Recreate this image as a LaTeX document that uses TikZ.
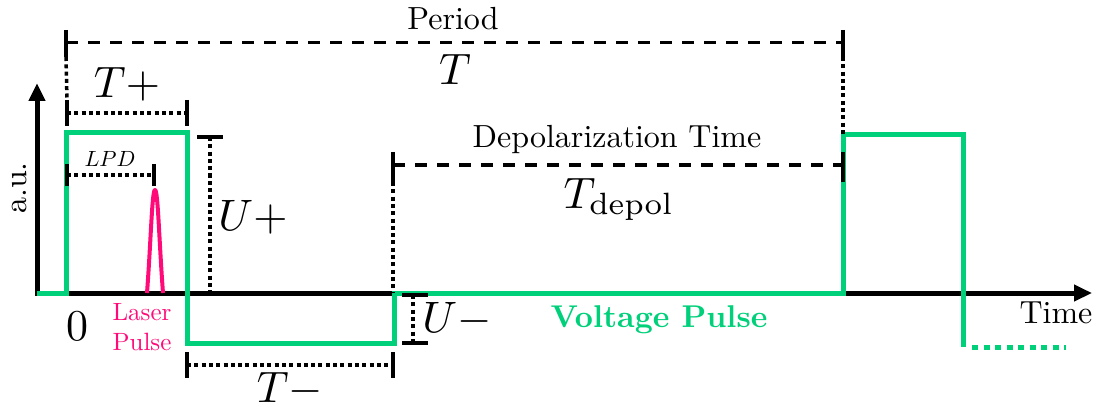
\documentclass[tikz,border=0pt]{standalone}
\usetikzlibrary{arrows.meta}
\definecolor{vgreen}{RGB}{0,208,122}
\definecolor{lpink}{RGB}{255,10,120}
\newcommand{\txtsc}[1]{\scalebox{3.2}{#1}}
\newcommand{\mthsc}[1]{\scalebox{4.4}{#1}}
\begin{document}
\begin{tikzpicture}[x=1pt,y=-1pt,
  axisline/.style={line width=5pt, -{Triangle[length=18pt,width=16pt]}},
  pulseline/.style={vgreen, line width=5pt, line join=miter},
  dimdash/.style={line width=3pt, dash pattern=on 12pt off 10pt},
  dimdot/.style={line width=3.5pt, dash pattern=on 4pt off 3.3pt},
  tickline/.style={line width=3.5pt},
  lbl/.style={font=\fontsize{10}{12}\selectfont, anchor=base, inner sep=0pt},
]
\useasboundingbox (0,0) rectangle (1103,409);

% axes
\coordinate (xend) at (1092,293);
\coordinate (ostart) at (35,293);
\coordinate (obot) at (37,295.5);
\coordinate (yend) at (37,83);
\draw[axisline] (ostart) -- (xend);
\draw[axisline] (obot) -- (yend);

% voltage pulse
\coordinate (g0) at (37,293);
\coordinate (g1) at (66,293);
\coordinate (g2) at (66,133);
\coordinate (g3) at (187,133);
\coordinate (g4) at (187,343);
\coordinate (g5) at (394,343);
\coordinate (g6) at (394,293);
\coordinate (g7) at (843,293);
\coordinate (g8) at (843,135);
\coordinate (g9) at (963,135);
\coordinate (g10) at (963,347);
\coordinate (g11) at (972,347);
\coordinate (g12) at (1066,347);
\draw[pulseline] (g0) -- (g1) -- (g2) -- (g3) -- (g4) -- (g5) -- (g6) -- (g7) -- (g8) -- (g9) -- (g10);
\draw[vgreen, line width=5pt, dash pattern=on 6pt off 5.5pt] (g11) -- (g12);

% laser pulse
\coordinate (l0) at (147,293);
\coordinate (l1) at (155,190);
\coordinate (l2) at (163,293);
\draw[lpink, line width=4pt, line join=round] (l0) .. controls (151,240) and (152,190) .. (l1) .. controls (158,190) and (159,240) .. (l2);

% Period
\coordinate (pa) at (66,43); \coordinate (pb) at (843,43);
\coordinate (pat) at (66,30); \coordinate (pab) at (66,57);
\coordinate (pbt) at (843,30); \coordinate (pbb) at (843,57);
\coordinate (tpt) at (67,100);
\draw[tickline] (pat) -- (pab);
\draw[tickline] (pbt) -- (pbb);
\draw[dimdash] (pa) -- (pb);
\draw[dimdot] (pbb) -- (g8);
\draw[dimdot] (pab) -- (tpt);
\node[lbl] (period) at (453,30) {\txtsc{Period}};
\node[lbl] (tlbl) at (455,85) {\mthsc{$T$}};

% T+
\coordinate (ta) at (67,113); \coordinate (tb) at (187,113);
\coordinate (tat) at (67,100); \coordinate (tab) at (67,126);
\coordinate (tbt) at (187,100); \coordinate (tbb) at (187,126);
\draw[tickline] (tat) -- (tab);
\draw[tickline] (tbt) -- (tbb);
\draw[dimdot] (ta) -- (tb);
\node[lbl] (tplus) at (127,98) {\mthsc{$T+$}};

% LPD
\coordinate (la) at (67,175); \coordinate (lb) at (154,175);
\coordinate (lat) at (67,164); \coordinate (lab) at (67,186);
\coordinate (lbt) at (154,164); \coordinate (lbb) at (154,186);
\draw[tickline] (lat) -- (lab);
\draw[tickline] (lbt) -- (lbb);
\draw[dimdot] (la) -- (lb);
\node[lbl] (lpd) at (110,167) {\scalebox{2.2}{$LPD$}};

% U+
\coordinate (ua) at (197,137); \coordinate (ub) at (223,137);
\coordinate (uc) at (210,137); \coordinate (ud) at (210,293);
\draw[tickline] (ua) -- (ub);
\draw[dimdot] (uc) -- (ud);
\node[lbl] (uplus) at (253,230) {\mthsc{$U+$}};

% Depolarization
\coordinate (da) at (393,165); \coordinate (db) at (843,165);
\coordinate (dat) at (393,152); \coordinate (dab) at (393,182);
\coordinate (dbt) at (843,152); \coordinate (dbb) at (843,182);
\coordinate (dax) at (393,293);
\draw[tickline] (dat) -- (dab);
\draw[tickline] (dbt) -- (dbb);
\draw[dimdash] (da) -- (db);
\draw[dimdot] (dab) -- (dax);
\node[lbl] (depol) at (617,148) {\txtsc{Depolarization Time}};
\node[lbl] (tdepol) at (619,208) {\mthsc{$T_{\mathrm{depol}}$}};

% T-
\coordinate (ma) at (187,365); \coordinate (mb) at (393,365);
\coordinate (mat) at (187,352); \coordinate (mab) at (187,378);
\coordinate (mbt) at (393,352); \coordinate (mbb) at (393,378);
\draw[tickline] (mat) -- (mab);
\draw[tickline] (mbt) -- (mbb);
\draw[dimdot] (ma) -- (mb);
\node[lbl] (tminus) at (290,402) {\mthsc{$T-$}};

% U-
\coordinate (na) at (402,295); \coordinate (nb) at (428,295);
\coordinate (nc) at (402,343); \coordinate (nd) at (428,343);
\coordinate (ne) at (413,295); \coordinate (nf) at (413,343);
\draw[tickline] (na) -- (nb);
\draw[tickline] (nc) -- (nd);
\draw[dimdot] (ne) -- (nf);
\node[lbl] (uminus) at (457,332) {\mthsc{$U-$}};

% labels
\node[lbl] (zero) at (77,340) {\mthsc{$0$}};
\node[lbl, text=lpink] (laser) at (142,320) {\scalebox{2.5}{Laser}};
\node[lbl, text=lpink] (lpulse) at (142,350) {\scalebox{2.5}{Pulse}};
\node[lbl, text=vgreen] (vpulse) at (659,327) {\scalebox{3.15}{\bfseries Voltage Pulse}};
\node[lbl] (time) at (1056,323) {\txtsc{Time}};
\node[font=\fontsize{10}{12}\selectfont, rotate=90, inner sep=0pt] (au) at (20,188) {\txtsc{a.u.}};
\end{tikzpicture}
\end{document}
